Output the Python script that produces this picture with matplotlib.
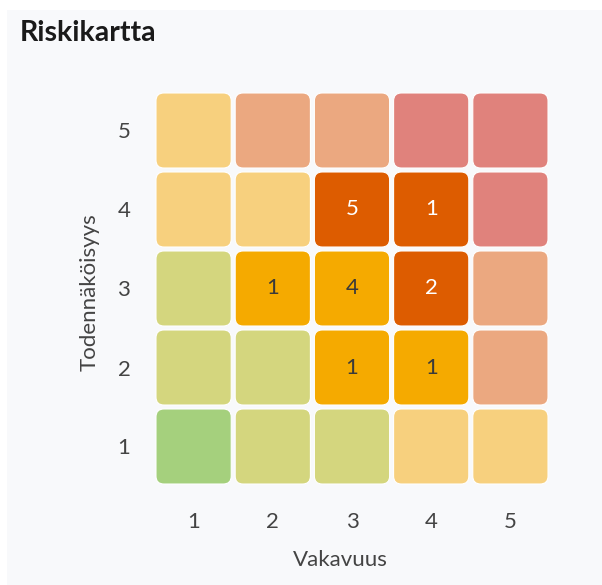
import matplotlib.pyplot as plt
from matplotlib.patches import FancyBboxPatch, Rectangle

plt.rcParams['font.family'] = ['Lato', 'DejaVu Sans']

# Risk matrix: rows = probability 1..5, cols = severity 1..5
severity = [1, 2, 3, 4, 5]
probability = [1, 2, 3, 4, 5]
levels = [
    [1, 2, 2, 3, 3],
    [2, 2, 3, 3, 4],
    [2, 3, 3, 4, 4],
    [3, 3, 4, 4, 5],
    [3, 4, 4, 5, 5],
]
counts = [
    [0, 0, 0, 0, 0],
    [0, 0, 1, 1, 0],
    [0, 1, 4, 2, 0],
    [0, 0, 5, 1, 0],
    [0, 0, 0, 0, 0],
]

base_colors = {1: '#a5d07d', 2: '#d4d67e', 3: '#f7d07e', 4: '#eba880', 5: '#e0827c'}
hit_colors = {3: '#f5aa00', 4: '#dd5c00'}
text_colors = {3: '#3a3a3a', 4: 'white'}

fig = plt.figure(figsize=(6.02, 5.85), dpi=100)
fig.patch.set_facecolor('white')
fig.patches.append(Rectangle((7 / 602, 0), 1, 1 - 10 / 585, transform=fig.transFigure,
                             facecolor='#f8f9fb', edgecolor='none', zorder=-10))

ax = fig.add_axes([154 / 602, 99 / 585, 396 / 602, 395 / 585])
ax.set_facecolor('none')

size = 0.95
for i, p in enumerate(probability):
    for j, s in enumerate(severity):
        lvl = levels[i][j]
        n = counts[i][j]
        color = hit_colors[lvl] if n else base_colors[lvl]
        box = FancyBboxPatch((s - size / 2, p - size / 2), size, size,
                             boxstyle='round,pad=0,rounding_size=0.1',
                             facecolor=color, edgecolor='white', linewidth=0.8)
        ax.add_patch(box)
        if n:
            ax.text(s, p, str(n), ha='center', va='center', fontsize=16,
                    color=text_colors[lvl])

ax.set_xlim(0.5, 5.5)
ax.set_ylim(0.5, 5.5)
ax.set_xticks(severity)
ax.set_yticks(probability)
ax.tick_params(length=0, labelsize=16, labelcolor='#444444')
ax.tick_params(axis='x', pad=19)
ax.tick_params(axis='y', pad=17)
for sp in ax.spines.values():
    sp.set_visible(False)

ax.set_xlabel('Vakavuus', fontsize=16, color='#444444', labelpad=13)
ax.set_ylabel('Todennäköisyys', fontsize=16, color='#444444', labelpad=13)
ax.xaxis.label.set_x(0.47)
ax.yaxis.label.set_y(0.49)

fig.text(20 / 602, 1 - 33 / 585, 'Riskikartta', fontsize=20.5, fontweight='bold',
         color='#1a1a1a', va='center', ha='left')

fig.savefig('out.png', dpi=100, facecolor=fig.get_facecolor())
